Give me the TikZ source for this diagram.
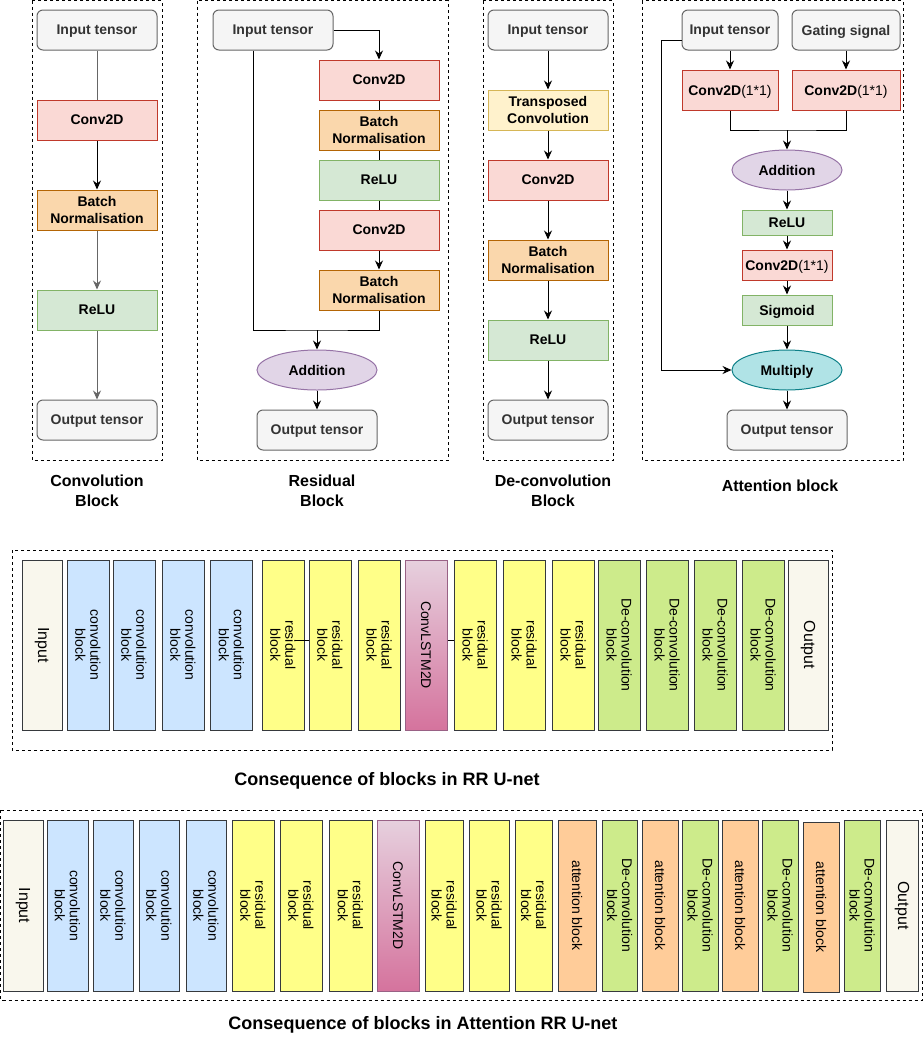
\documentclass[tikz,border=0pt]{standalone}
\usepackage{fontspec}
\setmainfont{Liberation Sans}
\usetikzlibrary{shapes.geometric,arrows.meta}
\definecolor{tfill}{HTML}{F5F5F5}
\definecolor{tdraw}{HTML}{666666}
\definecolor{ttext}{HTML}{333333}
\definecolor{cfill}{HTML}{FAD9D5}
\definecolor{cdraw}{HTML}{C0392B}
\definecolor{bfill}{HTML}{FAD7AC}
\definecolor{bdraw}{HTML}{B46504}
\definecolor{rfill}{HTML}{D5E8D4}
\definecolor{rdraw}{HTML}{82B366}
\definecolor{yfill}{HTML}{FFF2CC}
\definecolor{ydraw}{HTML}{D6B656}
\definecolor{pfill}{HTML}{E1D5E7}
\definecolor{pdraw}{HTML}{9673A6}
\definecolor{mfill}{HTML}{B0E3E6}
\definecolor{mdraw}{HTML}{0E8088}
\definecolor{sdraw}{HTML}{36393D}
\definecolor{iofill}{HTML}{F9F7ED}
\definecolor{cbfill}{HTML}{CCE5FF}
\definecolor{rbfill}{HTML}{FFFF88}
\definecolor{dbfill}{HTML}{CDEB8B}
\definecolor{abfill}{HTML}{FFCC99}
\definecolor{lstmtop}{HTML}{E6D0DE}
\definecolor{lstmbot}{HTML}{D5739D}
\definecolor{lstmdraw}{HTML}{996185}
\begin{document}
\begin{tikzpicture}[x=1pt,y=-1pt,
  every node/.style={inner sep=0pt, align=center},
  base/.style={draw, line width=1pt, minimum width=120pt, minimum height=40pt, text depth=0pt, font=\fontsize{14}{17}\selectfont\bfseries},
  tens/.style={base, rounded corners=6pt, fill=tfill, draw=tdraw, text=ttext},
  convbox/.style={base, fill=cfill, draw=cdraw},
  bnbox/.style={base, fill=bfill, draw=bdraw},
  relubox/.style={base, fill=rfill, draw=rdraw},
  transbox/.style={base, fill=yfill, draw=ydraw},
  addbox/.style={base, ellipse, fill=pfill, draw=pdraw},
  multbox/.style={base, ellipse, fill=mfill, draw=mdraw},
  arr/.style={-{Stealth[length=9pt,width=8pt]}, line width=1pt},
  ln/.style={line width=1pt},
  panel/.style={dash pattern=on 3pt off 3pt, line width=0.8pt},
  ttl/.style={font=\fontsize{16}{20}\selectfont\bfseries},
  bigttl/.style={font=\fontsize{18}{22}\selectfont\bfseries},
  vb/.style={draw=sdraw, line width=1pt, rotate=-90, minimum width=170pt, minimum height=42pt, font=\fontsize{14}{15}\selectfont},
  iob/.style={vb, fill=iofill, font=\fontsize{16}{18}\selectfont},
  cvb/.style={vb, fill=cbfill},
  rsb/.style={vb, fill=rbfill},
  dcb/.style={vb, fill=dbfill},
  atb/.style={vb, fill=abfill},
  lstmb/.style={vb, draw=lstmdraw, top color=lstmtop, bottom color=lstmbot},
]
\useasboundingbox (0,0) rectangle (923,1042);

% ---------- Panel 1: convolution block
\draw[panel] (32,0.5) rectangle (162,460);
\node[tens] (in1) at (97,30) {Input tensor};
\node[convbox] (c1) at (97,120) {Conv2D};
\node[bnbox] (b1) at (97,210) {Batch\\Normalisation};
\node[relubox] (r1) at (97,310) {ReLU};
\node[tens] (o1) at (97,420) {Output tensor};
\draw[ln, draw=tdraw] (in1) -- (c1);
\draw[arr] (c1) -- (b1);
\draw[arr, draw=tdraw] (b1) -- (r1);
\draw[arr, draw=tdraw] (r1) -- (o1);
\node[ttl] (l1) at (97,491) {Convolution\\Block};

% ---------- Panel 2: residual block
\draw[panel] (197,0.5) rectangle (448,460);
\node[tens] (in2) at (273,30) {Input tensor};
\node[convbox] (c2a) at (379,80) {Conv2D};
\node[bnbox] (b2a) at (379,130) {Batch\\Normalisation};
\node[relubox] (r2) at (379,180) {ReLU};
\node[convbox] (c2b) at (379,230) {Conv2D};
\node[bnbox] (b2b) at (379,290) {Batch\\Normalisation};
\node[addbox] (a2) at (317,370) {Addition};
\node[tens] (o2) at (317,430) {Output tensor};
\draw[arr] (in2.east) -| (c2a.north);
\draw[ln] (c2a) -- (b2a);
\draw[ln] (b2a) -- (r2);
\draw[ln] (r2) -- (c2b);
\draw[arr] (c2b) -- (b2b);
\coordinate (j2) at (317,330);
\draw[ln] ([xshift=-20pt]in2.south) |- (j2) -| (b2b.south);
\draw[arr] (j2) -- (a2);
\draw[arr] (a2) -- (o2);
\node[ttl] (l2) at (322,491) {Residual\\Block};

% ---------- Panel 3: de-convolution block
\draw[panel] (483,0.5) rectangle (613,460);
\node[tens] (in3) at (548,30) {Input tensor};
\node[transbox] (t3) at (548,110) {Transposed\\Convolution};
\node[convbox] (c3) at (548,180) {Conv2D};
\node[bnbox] (b3) at (548,260) {Batch\\Normalisation};
\node[relubox] (r3) at (548,340) {ReLU};
\node[tens] (o3) at (548,420) {Output tensor};
\draw[arr] (in3) -- (t3);
\draw[arr] (t3) -- (c3);
\draw[arr] (c3) -- (b3);
\draw[arr] (b3) -- (r3);
\draw[arr] (r3) -- (o3);
\node[ttl] (l3) at (553,491) {De-convolution\\Block};

% ---------- Panel 4: attention block
\draw[panel] (642,0.5) rectangle (903,460);
\node[tens, minimum width=96pt] (in4) at (730,30) {Input tensor};
\node[tens, minimum width=108pt] (g4) at (846,30) {Gating signal};
\node[convbox, minimum width=96pt] (cl4) at (730,90) {Conv2D\mdseries(1*1)};
\node[convbox, minimum width=108pt] (cr4) at (846,90) {Conv2D\mdseries(1*1)};
\node[addbox, minimum width=110pt] (a4) at (787,170) {Addition};
\node[relubox, minimum width=90pt, minimum height=25pt] (r4) at (787,222.5) {ReLU};
\node[convbox, minimum width=90pt, minimum height=30pt] (cc4) at (787,265) {Conv2D\mdseries(1*1)};
\node[relubox, minimum width=90pt, minimum height=30pt] (s4) at (787,310) {Sigmoid};
\node[multbox, minimum width=110pt] (m4) at (787,370) {Multiply};
\node[tens] (o4) at (787,430) {Output tensor};
\draw[arr] (in4) -- (cl4);
\draw[arr] (g4) -- (cr4);
\coordinate (j4) at (787,130);
\draw[ln] (cl4.south) |- (j4) -| (cr4.south);
\draw[arr] (j4) -- (a4);
\draw[arr] (a4) -- (r4);
\draw[arr] (r4) -- (cc4);
\draw[arr] (cc4) -- (s4);
\draw[arr] (s4) -- (m4);
\draw[arr] ([yshift=-10pt]in4.west) -- ++(-20,0) |- (m4.west);
\draw[arr] (m4) -- (o4);
\node[ttl] (l4) at (780,486) {Attention block};

% ---------- RR U-net sequence
\draw[panel] (12,550) rectangle (832,750);
\node[iob, minimum height=40pt] (mi) at (42,645) {Input};
\node[cvb] (mc1) at (88,645) {convolution\\block};
\node[cvb] (mc2) at (134,645) {convolution\\block};
\node[cvb] (mc3) at (183,645) {convolution\\block};
\node[cvb] (mc4) at (231.5,645) {convolution\\block};
\node[rsb] (mr1) at (283,645) {residual\\block};
\node[rsb] (mr2) at (330,645) {residual\\block};
\node[rsb] (mr3) at (379,645) {residual\\block};
\node[lstmb] (ml) at (426,645) {ConvLSTM2D};
\node[rsb] (mr4) at (475,645) {residual\\block};
\node[rsb] (mr5) at (524,645) {residual\\block};
\node[rsb] (mr6) at (573,645) {residual\\block};
\node[dcb] (md1) at (619,645) {De-convolution\\block};
\node[dcb] (md2) at (667,645) {De-convolution\\block};
\node[dcb] (md3) at (715,645) {De-convolution\\block};
\node[dcb] (md4) at (763,645) {De-convolution\\block};
\node[iob, minimum height=40pt] (mo) at (808,645) {Output};
\coordinate (k1) at (295,640);
\draw[line width=1pt] (k1) -- (mr2.south |- k1);
\draw[line width=1pt] (ml.north |- k1) -- (mr4.south |- k1);
\node[bigttl] (t1) at (387,781) {Consequence of blocks in RR U-net};

% ---------- Attention RR U-net sequence
\draw[panel] (0.5,810) rectangle (922,1000);
\node[iob, minimum height=40pt, minimum width=171pt] (bi) at (23,905.5) {Input};
\node[cvb, minimum height=41pt, minimum width=171pt] (bc1) at (67.5,905.5) {convolution\\block};
\node[cvb, minimum height=40pt, minimum width=171pt] (bc2) at (113,905.5) {convolution\\block};
\node[cvb, minimum height=40pt, minimum width=171pt] (bc3) at (159,905.5) {convolution\\block};
\node[cvb, minimum height=40pt, minimum width=171pt] (bc4) at (206,905.5) {convolution\\block};
\node[rsb, minimum width=171pt] (br1) at (253,905.5) {residual\\block};
\node[rsb, minimum width=171pt] (br2) at (301,905.5) {residual\\block};
\node[rsb, minimum height=43pt, minimum width=171pt] (br3) at (350.5,905.5) {residual\\block};
\node[lstmb, minimum width=171pt] (bl) at (398,905.5) {ConvLSTM2D};
\node[rsb, minimum height=38pt, minimum width=171pt] (br4) at (444,905.5) {residual\\block};
\node[rsb, minimum height=40pt, minimum width=171pt] (br5) at (489,905.5) {residual\\block};
\node[rsb, minimum height=37pt, minimum width=171pt] (br6) at (533.5,905.5) {residual\\block};
\node[atb, minimum height=38pt, minimum width=171pt] (ba1) at (577,905.5) {attention block};
\node[dcb, minimum height=35pt, minimum width=171pt] (bd1) at (619.5,905.5) {De-convolution\\block};
\node[atb, minimum height=36pt, minimum width=171pt] (ba2) at (660,905.5) {attention block};
\node[dcb, minimum height=36pt, minimum width=171pt] (bd2) at (700,905.5) {De-convolution\\block};
\node[atb, minimum height=36pt, minimum width=171pt] (ba3) at (740,905.5) {attention block};
\node[dcb, minimum height=36pt, minimum width=171pt] (bd3) at (780,905.5) {De-convolution\\block};
\node[atb, minimum height=36pt, minimum width=170pt] (ba4) at (821,907) {attention block};
\node[dcb, minimum height=36pt, minimum width=171pt] (bd4) at (862,905.5) {De-convolution\\block};
\node[iob, minimum height=32pt, minimum width=171pt] (bo) at (902,905.5) {Output};
\node[bigttl] (t2) at (423,1025) {Consequence of blocks in Attention RR U-net};
\end{tikzpicture}
\end{document}
